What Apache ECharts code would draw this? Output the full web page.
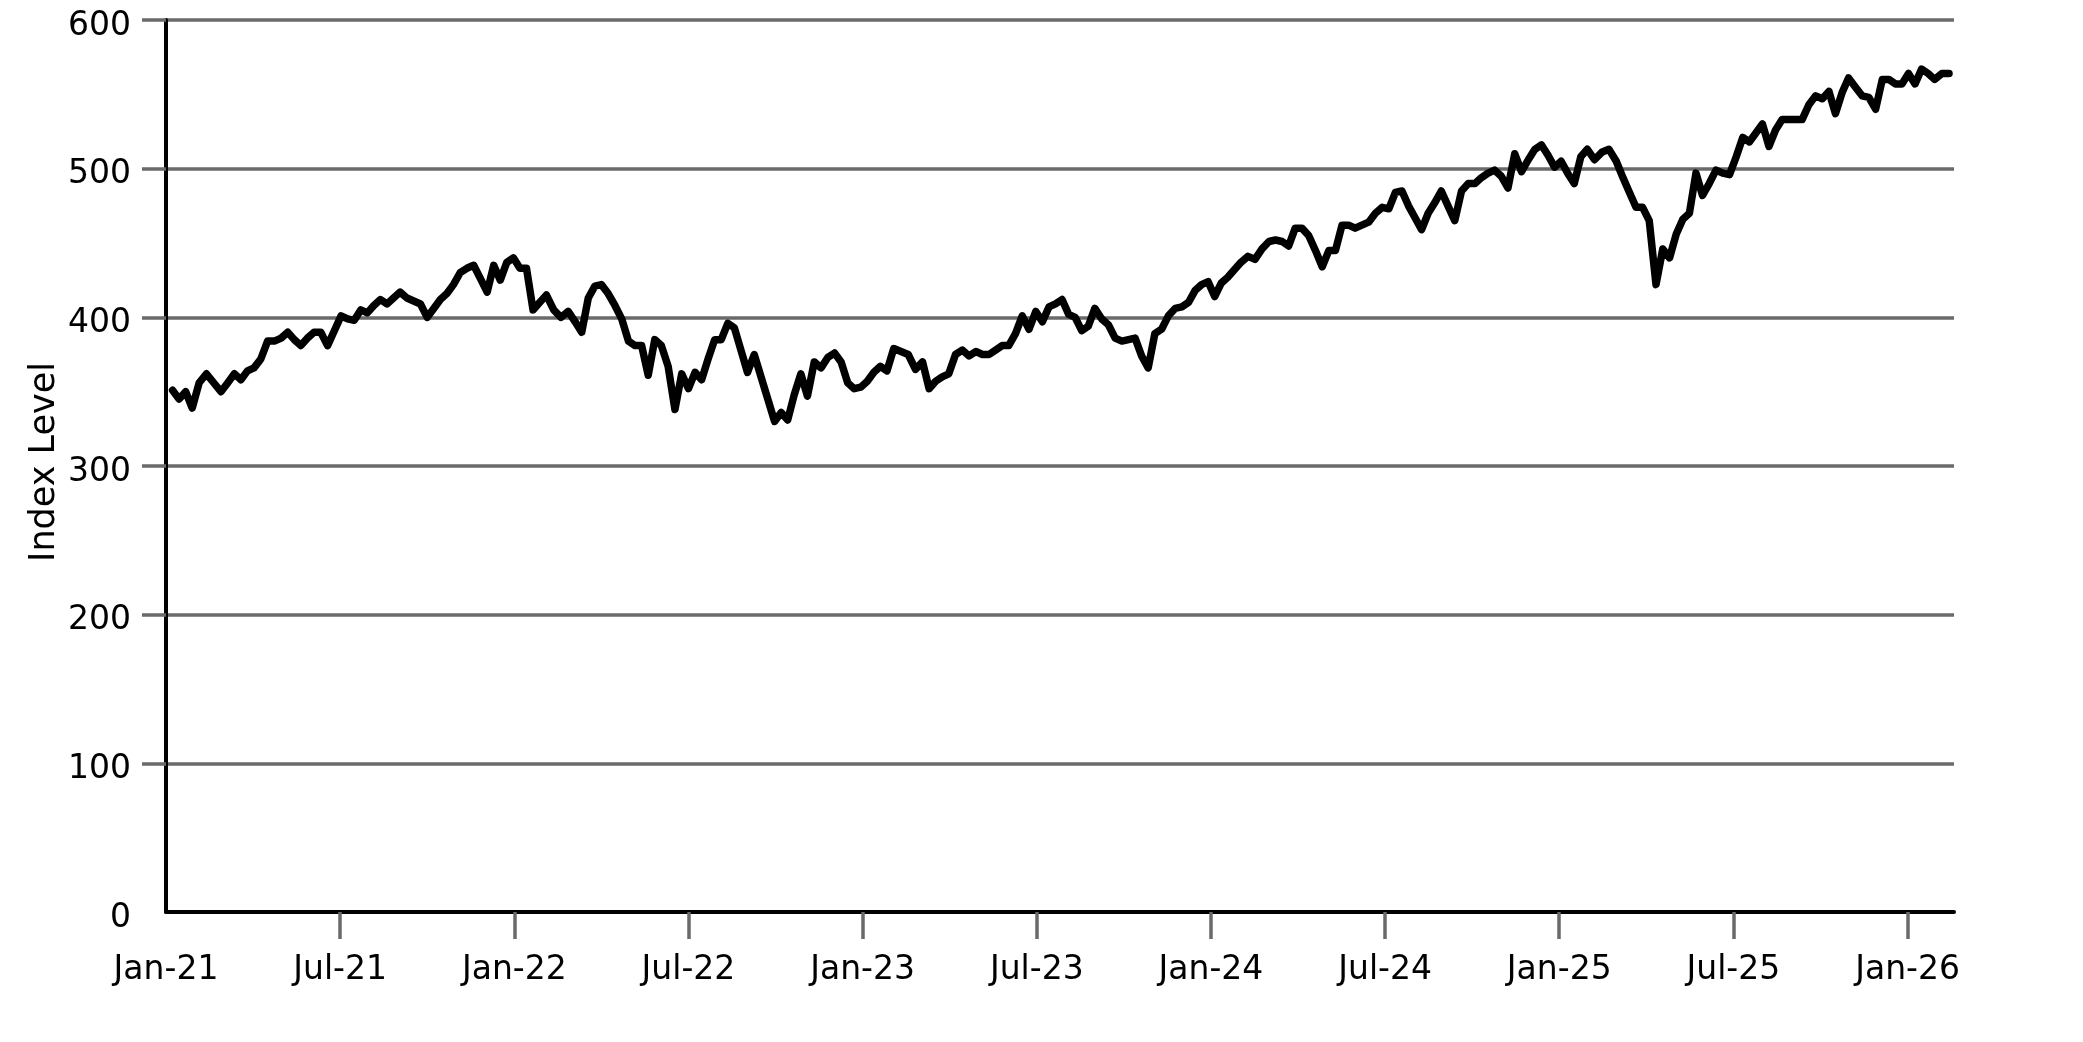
<!DOCTYPE html>
<html>
<head>
<meta charset="utf-8">
<script src="https://cdn.jsdelivr.net/npm/echarts@6/dist/echarts.min.js"></script>
<style>
html,body{margin:0;padding:0;background:#fff;}
#chart{width:2083px;height:1042px;}
</style>
</head>
<body>
<div id="chart"></div>
<script>
// Weekly observations, first one on Friday 8 Jan 2021
const firstWeek = '2021-01-08';
const indexValues = [
351,345,350,339,356,362,356,350,356,362,358,364,366,372,384,384,386,390,385,381,
386,390,390,381,391,401,399,398,405,403,408,412,409,413,417,413,411,409,400,406,
412,416,422,430,433,435,426,417,435,425,437,440,433,433,405,410,415,405,400,404,
397,390,413,421,422,416,408,399,384,381,381,361,385,381,367,338,362,352,363,358,
372,385,385,396,393,378,363,375,360,345,330,336,331,348,362,347,370,366,373,376,
370,356,352,353,357,363,367,364,379,377,375,365,370,352,357,360,362,375,378,374,
377,375,375,378,381,381,389,401,392,404,397,407,409,412,402,400,391,394,406,399,
395,386,384,385,386,374,366,389,392,401,406,407,410,418,422,424,414,423,427,432,
437,441,439,446,451,452,451,448,460,460,455,445,434,445,445,462,462,460,462,464,
470,474,473,484,485,475,467,459,470,477,485,475,465,485,490,490,494,497,499,495,
487,510,498,506,513,516,509,501,505,497,490,508,513,506,511,513,505,494,484,474,
474,465,422,446,440,456,466,470,497,482,490,499,497,496,508,521,518,524,530,515,
526,533,533,533,533,543,549,547,552,537,551,561,555,549,548,540,560,560,557,557,
564,557,567,564,560,564,564
];
const tickLabels = ['Jan-21','Jul-21','Jan-22','Jul-22','Jan-23','Jul-23','Jan-24','Jul-24','Jan-25','Jul-25','Jan-26'];
const yTickValues = [0,100,200,300,400,500,600];
const yTitle = 'Index Level';

// position of a date in months since Jan 2021
function monthPos(dt){
  const y = dt.getUTCFullYear(), m = dt.getUTCMonth(), d = dt.getUTCDate();
  const dim = new Date(Date.UTC(y, m + 1, 0)).getUTCDate();
  return (y - 2021) * 12 + m + (d - 1) / dim;
}
const start = new Date(firstWeek + 'T00:00:00Z');
const seriesData = indexValues.map((v, i) => {
  const dt = new Date(start.getTime() + i * 7 * 86400000);
  return [monthPos(dt), v];
});
const tickPos = tickLabels.map((_, k) => k * 6);

const FONT = 'DejaVu Sans';
const GRID_GREY = '#6a6a6a';
const chart = echarts.init(document.getElementById('chart'), null, {renderer: 'canvas'});
chart.setOption({
  animation: false,
  backgroundColor: '#ffffff',
  grid: {left: 166, right: 129, top: 20, bottom: 130, containLabel: false, outerBoundsMode: 'none'},
  graphic: [{
    type: 'text',
    x: 45,
    y: 462,
    rotation: Math.PI / 2,
    style: {
      text: yTitle,
      fontFamily: FONT, fontSize: 35, fill: '#000',
      align: 'center', verticalAlign: 'middle'
    }
  }],
  xAxis: {
    type: 'value',
    min: 0,
    max: 61.6,
    splitLine: {show: false},
    axisLine: {show: true, onZero: false, lineStyle: {color: '#000', width: 4}},
    axisTick: {show: true, customValues: tickPos.slice(1), length: 27, lineStyle: {color: GRID_GREY, width: 3.5}},
    axisLabel: {
      customValues: tickPos,
      margin: 42,
      fontFamily: FONT, fontSize: 33, color: '#000',
      formatter: (v) => { const k = Math.round(v / 6); return tickLabels[k] || ''; }
    }
  },
  yAxis: {
    type: 'value',
    min: 0,
    max: 600,
    interval: 100,
    axisLine: {show: true, lineStyle: {color: '#000', width: 4}},
    axisTick: {show: true, customValues: yTickValues.slice(1), length: 24, lineStyle: {color: GRID_GREY, width: 3.5}},
    axisLabel: {
      customValues: yTickValues,
      margin: 35,
      fontFamily: FONT, fontSize: 33, color: '#000',
      formatter: (v) => '{t|' + v + '}',
      rich: {t: {fontFamily: FONT, fontSize: 33, color: '#000', padding: [12, 0, 0, 0]}}
    },
    splitLine: {show: true, lineStyle: {color: GRID_GREY, width: 3.5}}
  },
  series: [{
    type: 'line',
    data: seriesData,
    showSymbol: false,
    symbol: 'none',
    lineStyle: {color: '#000', width: 7.5, join: 'round', cap: 'round'},
    z: 5
  }]
});
</script>
</body>
</html>
